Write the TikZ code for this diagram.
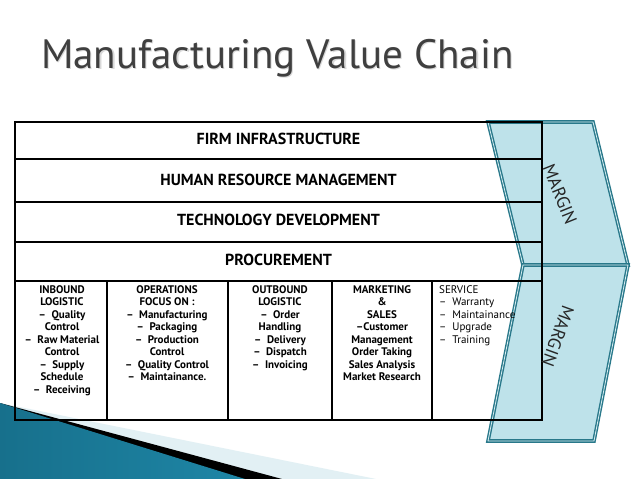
\documentclass[tikz,border=0pt]{standalone}
\usepackage{fontspec}
\setmainfont{PT Sans}
\definecolor{tealB}{HTML}{28788A}
\definecolor{fillB}{HTML}{BEE2EA}
\definecolor{titleC}{HTML}{3F3F3F}
\definecolor{swA}{HTML}{17708C}
\definecolor{swB}{HTML}{4DB3D0}
\definecolor{swC}{HTML}{1E86A6}
\definecolor{swL}{HTML}{E2F0F4}
\begin{document}
\begin{tikzpicture}[x=1pt,y=-1pt,
  tbl/.style={draw=black,line width=1.3pt},
  marg/.style={draw=tealB,fill=fillB,line width=1.4pt,double=fillB!60!white,double distance=0.8pt,line join=miter},
  hdr/.style={font=\bfseries\fontsize{16}{18}\selectfont,inner sep=0pt},
  colt/.style={anchor=north,align=center,font=\bfseries\fontsize{11}{12.5}\selectfont,inner sep=0pt},
  svct/.style={anchor=north west,align=left,font=\fontsize{11}{12.5}\selectfont,inner sep=0pt},
  margt/.style={font=\fontsize{18}{20}\selectfont,inner sep=0pt,text=black!85}]
\useasboundingbox[fill=white] (0,0) rectangle (638,479);
% bottom-left swoosh
\fill[swL] (0,403) -- (376,479) -- (0,479) -- cycle;
\fill[black] (0,403) -- (282,479) -- (0,479) -- cycle;
\shade[left color=swA,middle color=swB,right color=swC] (0,403) -- (245,479) -- (0,479) -- cycle;
% title
\node (titleshadow) [anchor=base west,text=black!15,font=\fontsize{41}{46}\selectfont,inner sep=0pt] at (42.2,69.2) {Manufacturing Value Chain};
\node (title) [anchor=base west,text=titleC,font=\fontsize{41}{46}\selectfont,inner sep=0pt] at (41,68) {Manufacturing Value Chain};
% margin chevron
\draw[marg] (488,122) -- (593,122) -- (628,265) -- (523,265) -- cycle;
\draw[marg] (523,265) -- (628,265) -- (594,441) -- (488,441) -- cycle;
% table
\draw[tbl] (15,122) rectangle (542,420);
\foreach \yy in {159,202,242,281} \draw[tbl] (15,\yy) -- (542,\yy);
\foreach \xx in {107,228,332,432} \draw[tbl] (\xx,281) -- (\xx,420);
% headings
\node (firm) [hdr] at (278.5,139) {FIRM INFRASTRUCTURE};
\node (hrm) [hdr] at (278.5,180) {HUMAN RESOURCE MANAGEMENT};
\node (tech) [hdr] at (278.5,220) {TECHNOLOGY DEVELOPMENT};
\node (proc) [hdr] at (278.5,260) {PROCUREMENT};
% primary activities
\node (inb) [colt] at (62,285) {INBOUND\\LOGISTIC\\–\ \ Quality\\Control\\–\ \ Raw Material\\Control\\–\ \ Supply\\Schedule\\–\ \ Receiving};
\node (ops) [colt] at (167,285) {OPERATIONS\\FOCUS ON :\\–\ \ Manufacturing\\–\ \ Packaging\\–\ \ Production\\Control\\–\ \ Quality Control\\–\ \ Maintainance.};
\node (outb) [colt] at (280,285) {OUTBOUND\\LOGISTIC\\–\ \ Order\\Handling\\–\ \ Delivery\\–\ \ Dispatch\\–\ \ Invoicing};
\node (mkt) [colt] at (382,285) {MARKETING\\\&\\SALES\\–Customer\\Management\\Order Taking\\Sales Analysis\\Market Research};
\node (svc) [svct] at (439,285) {SERVICE\\–\ \ Warranty\\–\ \ Maintainance\\–\ \ Upgrade\\–\ \ Training};
% margin labels
\node (m1) [margt,rotate=-68] at (560,194) {MARGIN};
\node (m2) [margt,rotate=-110] at (558,336) {MARGIN};
\end{tikzpicture}
\end{document}
